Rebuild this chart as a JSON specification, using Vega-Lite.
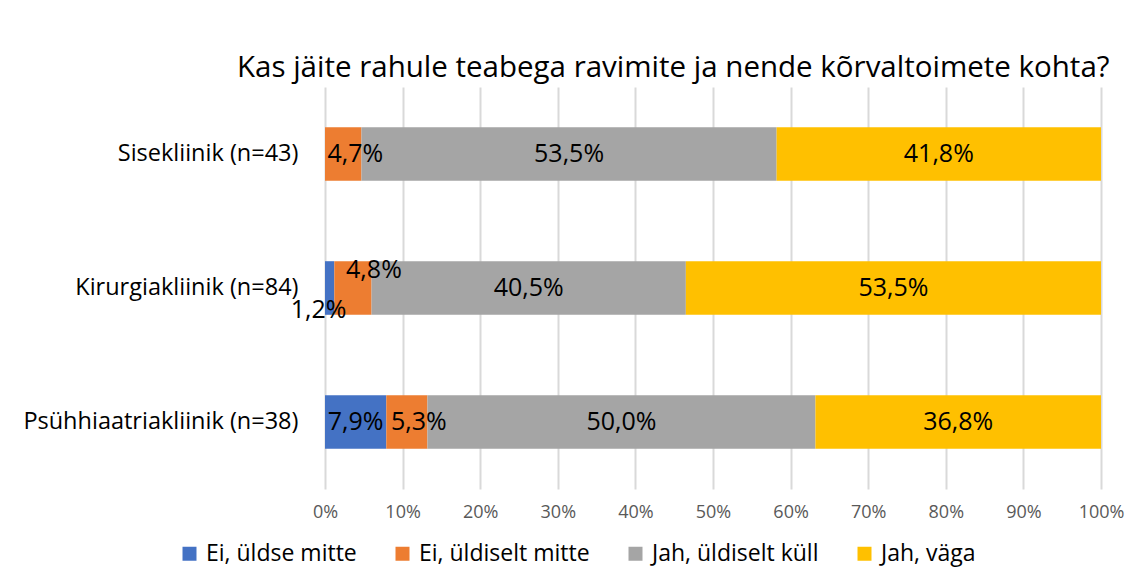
{
  "$schema": "https://vega.github.io/schema/vega-lite/v6.json",
  "width": 776,
  "height": 402,
  "autosize": {"type": "none"},
  "padding": {"left": 325, "top": 87, "right": 42, "bottom": 96},
  "background": "white",
  "config": {
    "locale": {"number": {"decimal": ",", "thousands": " ", "grouping": [3], "currency": ["", " €"]}},
    "font": "Open Sans",
    "view": {"stroke": null}
  },
  "title": {
    "text": "Kas jäite rahule teabega ravimite ja nende kõrvaltoimete kohta?",
    "anchor": "start",
    "frame": "group",
    "dx": -88,
    "offset": 4,
    "fontSize": 29.5,
    "fontWeight": "normal",
    "font": "Open Sans",
    "color": "#000000"
  },
  "data": {
    "values": [
      {"klinik": "Sisekliinik (n=43)", "vastus": "Ei, üldse mitte", "k": 1, "v": 0},
      {"klinik": "Sisekliinik (n=43)", "vastus": "Ei, üldiselt mitte", "k": 2, "v": 0.047},
      {"klinik": "Sisekliinik (n=43)", "vastus": "Jah, üldiselt küll", "k": 3, "v": 0.535},
      {"klinik": "Sisekliinik (n=43)", "vastus": "Jah, väga", "k": 4, "v": 0.418},
      {"klinik": "Kirurgiakliinik (n=84)", "vastus": "Ei, üldse mitte", "k": 1, "v": 0.012},
      {"klinik": "Kirurgiakliinik (n=84)", "vastus": "Ei, üldiselt mitte", "k": 2, "v": 0.048},
      {"klinik": "Kirurgiakliinik (n=84)", "vastus": "Jah, üldiselt küll", "k": 3, "v": 0.405},
      {"klinik": "Kirurgiakliinik (n=84)", "vastus": "Jah, väga", "k": 4, "v": 0.535},
      {"klinik": "Psühhiaatriakliinik (n=38)", "vastus": "Ei, üldse mitte", "k": 1, "v": 0.079},
      {"klinik": "Psühhiaatriakliinik (n=38)", "vastus": "Ei, üldiselt mitte", "k": 2, "v": 0.053},
      {"klinik": "Psühhiaatriakliinik (n=38)", "vastus": "Jah, üldiselt küll", "k": 3, "v": 0.5},
      {"klinik": "Psühhiaatriakliinik (n=38)", "vastus": "Jah, väga", "k": 4, "v": 0.368}
    ]
  },
  "transform": [
    {"stack": "v", "groupby": ["klinik"], "sort": [{"field": "k", "order": "ascending"}], "as": ["x0", "x1"]},
    {"calculate": "(datum.x0 + datum.x1) / 2", "as": "xm"}
  ],
  "encoding": {
    "y": {
      "field": "klinik",
      "type": "nominal",
      "sort": ["Sisekliinik (n=43)", "Kirurgiakliinik (n=84)", "Psühhiaatriakliinik (n=38)"],
      "scale": {"paddingInner": 0.6, "paddingOuter": 0.3},
      "axis": {
        "title": null,
        "domain": false,
        "ticks": false,
        "labelFontSize": 23.5,
        "labelColor": "#000000",
        "labelPadding": 27,
        "labelLimit": 400,
        "labelFont": "Open Sans"
      }
    }
  },
  "layer": [
    {
      "mark": {"type": "bar"},
      "encoding": {
        "x": {
          "field": "x0",
          "type": "quantitative",
          "scale": {"domain": [0, 1]},
          "axis": {
            "title": null,
            "format": ".0%",
            "values": [0, 0.1, 0.2, 0.3, 0.4, 0.5, 0.6, 0.7, 0.8, 0.9, 1],
            "labelOverlap": false,
            "labelFlush": false,
            "domain": false,
            "ticks": false,
            "grid": true,
            "gridColor": "#D9D9D9",
            "gridWidth": 2,
            "labelFontSize": 18,
            "labelColor": "#595959",
            "labelPadding": 14,
            "labelFont": "Open Sans"
          }
        },
        "x2": {"field": "x1"},
        "color": {
          "field": "vastus",
          "type": "nominal",
          "scale": {
            "domain": ["Ei, üldse mitte", "Ei, üldiselt mitte", "Jah, üldiselt küll", "Jah, väga"],
            "range": ["#4472C4", "#ED7D31", "#A5A5A5", "#FFC000"]
          },
          "legend": {
            "title": null,
            "orient": "none",
            "direction": "horizontal",
            "legendX": -147,
            "legendY": 455,
            "symbolType": "square",
            "symbolSize": 196,
            "symbolStrokeWidth": 0,
            "labelFontSize": 23,
            "labelColor": "#000000",
            "labelFont": "Open Sans",
            "labelLimit": 400,
            "columnPadding": 34,
            "labelOffset": 5
          }
        }
      }
    },
    {
      "transform": [{"filter": "datum.v > 0 && datum.k != 2 && (datum.klinik != 'Kirurgiakliinik (n=84)' || datum.k > 2)"}],
      "mark": {"type": "text", "fontSize": 25, "color": "#000000", "font": "Open Sans"},
      "encoding": {
        "x": {"field": "xm", "type": "quantitative"},
        "text": {"field": "v", "type": "quantitative", "format": ".1%"}
      }
    },
    {
      "transform": [{"filter": "datum.k == 2 && datum.klinik != 'Kirurgiakliinik (n=84)'"}],
      "mark": {"type": "text", "fontSize": 25, "color": "#000000", "font": "Open Sans", "dx": 12},
      "encoding": {
        "x": {"field": "xm", "type": "quantitative"},
        "text": {"field": "v", "type": "quantitative", "format": ".1%"}
      }
    },
    {
      "transform": [{"filter": "datum.klinik == 'Kirurgiakliinik (n=84)' && datum.k == 1"}],
      "mark": {"type": "text", "fontSize": 25, "color": "#000000", "font": "Open Sans", "dx": -11, "dy": 22},
      "encoding": {
        "x": {"field": "xm", "type": "quantitative"},
        "text": {"field": "v", "type": "quantitative", "format": ".1%"}
      }
    },
    {
      "transform": [{"filter": "datum.klinik == 'Kirurgiakliinik (n=84)' && datum.k == 2"}],
      "mark": {"type": "text", "fontSize": 25, "color": "#000000", "font": "Open Sans", "dx": 21, "dy": -18},
      "encoding": {
        "x": {"field": "xm", "type": "quantitative"},
        "text": {"field": "v", "type": "quantitative", "format": ".1%"}
      }
    }
  ]
}
